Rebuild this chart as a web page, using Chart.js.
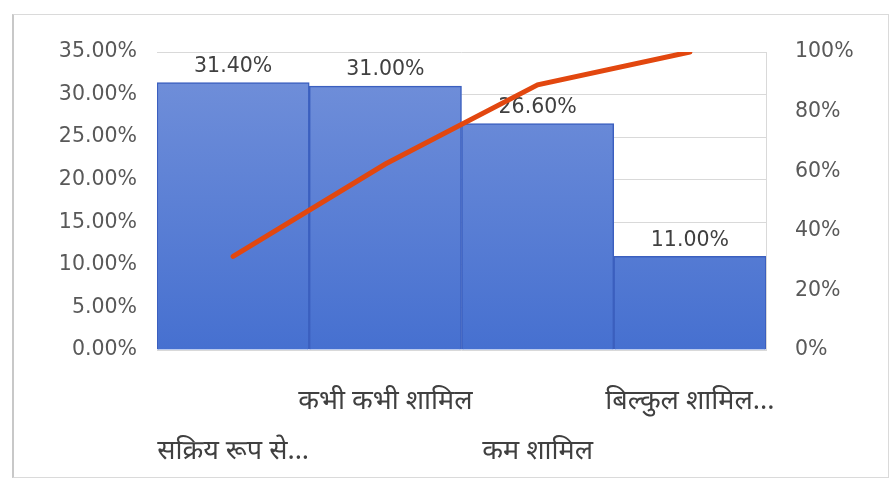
<!DOCTYPE html>
<html>
<head>
<meta charset="utf-8">
<script src="https://cdn.jsdelivr.net/npm/chart.js@4.4.1/dist/chart.umd.min.js"></script>
<style>
  html, body { margin: 0; padding: 0; background: #fff; }
  #wrap { position: relative; width: 892px; height: 486px; }
  #frame {
    position: absolute; left: 12px; top: 14px; width: 874px; height: 462px;
    border: 1px solid #dadada; border-left: 2px solid #c8c8c8; pointer-events: none;
  }
  canvas { position: absolute; left: 0; top: 0; }
</style>
</head>
<body>
<div id="wrap">
  <div id="frame"></div>
  <canvas id="pareto" width="892" height="486"></canvas>
</div>
<script>
// categories and shares (already sorted high to low)
const categories = ['सक्रिय रूप से...', 'कभी कभी शामिल', 'कम शामिल', 'बिल्कुल शामिल...'];
const shares = [31.4, 31.0, 26.6, 11.0];
const cumulative = [31.4, 62.4, 89.0, 100];

const leftTicks = [0, 5, 10, 15, 20, 25, 30, 35];
const rightTicks = [0, 20, 40, 60, 80, 100];

const numFont = { family: "'DejaVu Sans', sans-serif", size: 20.5 };
const hindiFont = { family: "'Noto Sans Devanagari', 'Lohit Devanagari', 'Noto Sans', sans-serif", size: 27, lineHeight: '50px' };

// value labels above each bar, drawn before the pareto line so it sits on top
const barLabels = {
  id: 'barLabels',
  afterDatasetDraw(chart, args) {
    if (args.index !== 0) return;
    const ctx = chart.ctx;
    ctx.save();
    ctx.font = `${numFont.size}px ${numFont.family}`;
    ctx.fillStyle = '#404040';
    ctx.textAlign = 'center';
    ctx.textBaseline = 'middle';
    args.meta.data.forEach((bar, i) => {
      ctx.fillText(shares[i].toFixed(2) + '%', bar.x, bar.y - 16);
    });
    ctx.restore();
  }
};

const ctx = document.getElementById('pareto').getContext('2d');

function barGradient(context) {
  const area = context.chart.chartArea;
  if (!area) return '#5a7ed4';
  const g = context.chart.ctx.createLinearGradient(0, area.top, 0, area.bottom);
  g.addColorStop(0, '#7391da');
  g.addColorStop(1, '#4670d0');
  return g;
}

new Chart(ctx, {
  data: {
    labels: categories,
    datasets: [
      {
        type: 'bar',
        data: shares,
        yAxisID: 'y',
        backgroundColor: barGradient,
        borderColor: '#3b5fbf',
        borderWidth: 1.5,
        categoryPercentage: 1,
        barPercentage: 1,
        order: 2
      },
      {
        type: 'line',
        data: cumulative,
        yAxisID: 'y1',
        borderColor: '#e2470f',
        borderWidth: 5,
        borderCapStyle: 'round',
        pointRadius: 0,
        tension: 0,
        order: 1
      }
    ]
  },
  plugins: [barLabels],
  options: {
    responsive: false,
    animation: false,
    layout: { padding: { top: 52, left: 0, right: 0, bottom: 0 } },
    plugins: { legend: { display: false }, tooltip: { enabled: false } },
    scales: {
      x: {
        grid: { display: false },
        border: { display: false },
        ticks: {
          autoSkip: false,
          maxRotation: 0,
          padding: 21,
          color: '#404040',
          font: hindiFont,
          // alternate labels between two rows
          callback: (v, i) => i % 2 === 0 ? ['', categories[i]] : [categories[i], '']
        },
        afterFit: s => { s.height = 136; }
      },
      y: {
        position: 'left',
        min: 0, max: 35,
        afterBuildTicks: s => { s.ticks = leftTicks.map(v => ({ value: v })); },
        grid: { color: '#d9d9d9', lineWidth: 1, drawTicks: false },
        border: { display: false },
        ticks: {
          padding: 20,
          color: '#595959',
          font: numFont,
          callback: v => v.toFixed(2) + '%'
        },
        afterFit: s => { s.width = 157; }
      },
      y1: {
        position: 'right',
        min: 0, max: 100,
        afterBuildTicks: s => { s.ticks = rightTicks.map(v => ({ value: v })); },
        grid: { display: false, drawTicks: false },
        border: { display: true, color: '#d9d9d9', width: 1 },
        ticks: {
          padding: 29,
          color: '#595959',
          font: numFont,
          callback: v => v + '%'
        },
        afterFit: s => { s.width = 126; }
      }
    }
  }
});
</script>
</body>
</html>
